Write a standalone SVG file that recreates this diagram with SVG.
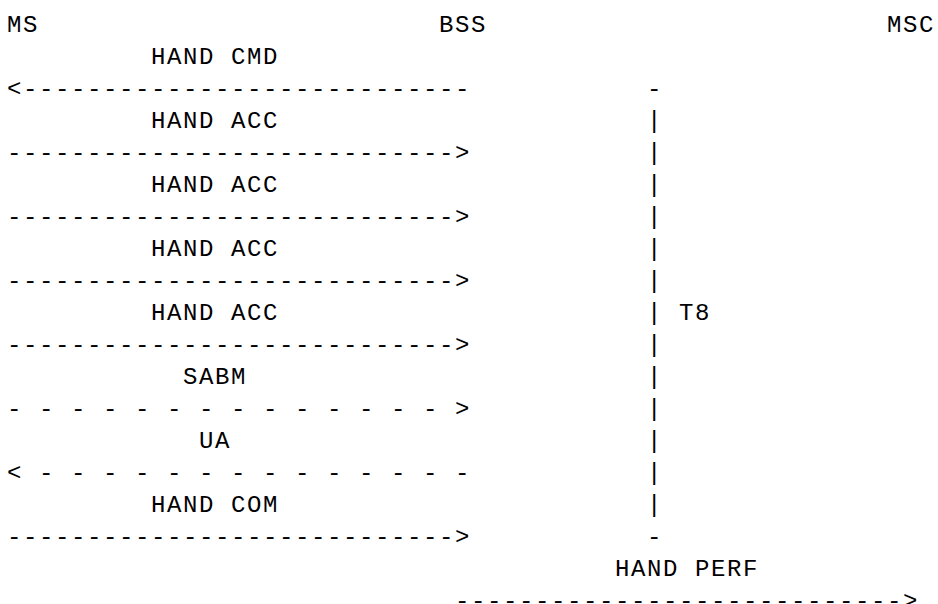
<svg xmlns="http://www.w3.org/2000/svg" width="938" height="604" viewBox="0 0 938 604">
<style>
.t{font-family:"Liberation Mono","DejaVu Sans Mono",monospace;font-size:24px;letter-spacing:1.6px;fill:#000}
</style>
<rect width="938" height="604" fill="#fff"/>
<g id="ms"><text class="t" x="7" y="32">MS</text></g>
<g id="bss"><text class="t" x="439" y="32">BSS</text></g>
<g id="msc"><text class="t" x="887" y="32">MSC</text></g>
<g id="connectors">
  <g id="msg-hand-cmd">
    <text class="t" x="151" y="64">HAND CMD</text>
    <text class="t" x="7" y="96">&lt;----------------------------</text>
  </g>
  <g id="msg-hand-acc-1">
    <text class="t" x="151" y="128">HAND ACC</text>
    <text class="t" x="7" y="160">----------------------------&gt;</text>
  </g>
  <g id="msg-hand-acc-2">
    <text class="t" x="151" y="192">HAND ACC</text>
    <text class="t" x="7" y="224">----------------------------&gt;</text>
  </g>
  <g id="msg-hand-acc-3">
    <text class="t" x="151" y="256">HAND ACC</text>
    <text class="t" x="7" y="288">----------------------------&gt;</text>
  </g>
  <g id="msg-hand-acc-4">
    <text class="t" x="151" y="320">HAND ACC</text>
    <text class="t" x="7" y="352">----------------------------&gt;</text>
  </g>
  <g id="msg-sabm">
    <text class="t" x="183" y="384">SABM</text>
    <text class="t" x="7" y="416">- - - - - - - - - - - - - - &gt;</text>
  </g>
  <g id="msg-ua">
    <text class="t" x="199" y="448">UA</text>
    <text class="t" x="7" y="480">&lt; - - - - - - - - - - - - - -</text>
  </g>
  <g id="msg-hand-com">
    <text class="t" x="151" y="512">HAND COM</text>
    <text class="t" x="7" y="544">----------------------------&gt;</text>
  </g>
  <g id="msg-hand-perf">
    <text class="t" x="615" y="576">HAND PERF</text>
    <text class="t" x="455" y="608">----------------------------&gt;</text>
  </g>
</g>
<g id="timer-t8">
  <text class="t" x="647" y="96">-</text>
  <text class="t" x="647" y="128">|</text>
  <text class="t" x="647" y="160">|</text>
  <text class="t" x="647" y="192">|</text>
  <text class="t" x="647" y="224">|</text>
  <text class="t" x="647" y="256">|</text>
  <text class="t" x="647" y="288">|</text>
  <text class="t" x="647" y="320">|</text>
  <text class="t" x="679" y="320">T8</text>
  <text class="t" x="647" y="352">|</text>
  <text class="t" x="647" y="384">|</text>
  <text class="t" x="647" y="416">|</text>
  <text class="t" x="647" y="448">|</text>
  <text class="t" x="647" y="480">|</text>
  <text class="t" x="647" y="512">|</text>
  <text class="t" x="647" y="544">-</text>
</g>
</svg>
